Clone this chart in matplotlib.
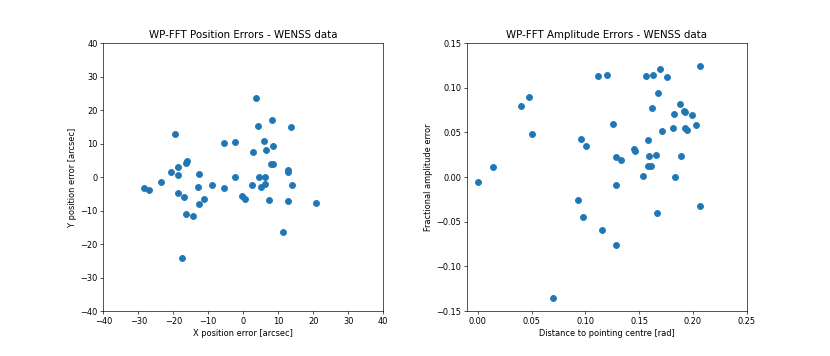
from matplotlib import pyplot as plt

# position errors [arcsec]
pos_x = [3.6, 8.3, 4.1, 13.8, -19.4, -5.6, -2.4, 5.9, 6.4, 8.5, 2.7,
         -16.3, -16.0, -18.7, -20.7, -18.7, -12.7, 7.9, 8.5, 12.7, 12.8,
         -2.2, 4.6, 6.2,
         -28.3, -26.9, -23.5, -18.6, -16.9, -12.9, -8.8, -5.6, -12.5, -11.3,
         -16.4, -14.4, -17.6, -0.2, 0.5, 2.6, 5.0, 6.2, 7.4, 11.3, 12.9,
         13.9, 20.9]
pos_y = [23.5, 17.1, 15.2, 15.0, 12.9, 10.2, 10.6, 10.8, 8.2, 9.2, 7.5,
         4.3, 4.8, 3.1, 1.4, 0.7, 0.8, 4.0, 4.0, 2.1, 1.6,
         0.1, 0.1, 0.1,
         -3.3, -4.0, -1.4, -4.8, -5.9, -3.1, -2.4, -3.4, -8.1, -6.5,
         -11.0, -11.7, -24.2, -5.7, -6.5, -2.4, -3.1, -2.1, -7.0, -16.3, -7.2,
         -2.3, -7.7]

# amplitude errors vs distance to pointing centre
dist = [0.2065, 0.169, 0.1119, 0.1202, 0.156, 0.163, 0.1764, 0.1677,
        0.0406, 0.048, 0.0505, 0.1621, 0.1876, 0.1823, 0.1913, 0.1925,
        0.1993, 0.2028, 0.1258, 0.1712, 0.1811, 0.1931, 0.1941, 0.0958,
        0.101, 0.1584, 0.1457, 0.146, 0.1286, 0.133, 0.1593, 0.1655,
        0.1885, 0.0139, 0.1584, 0.1615, 0.0002, 0.1541, 0.1832,
        0.1286, 0.093, 0.0976, 0.2065, 0.1665, 0.1153, 0.1283, 0.0703]
amp_err = [0.1246, 0.1208, 0.1134, 0.1141, 0.1126, 0.1141, 0.1123, 0.0944,
           0.0799, 0.0899, 0.0485, 0.0768, 0.0821, 0.0705, 0.0738, 0.0724,
           0.069, 0.0586, 0.059, 0.0515, 0.0545, 0.0545, 0.0522, 0.043,
           0.0343, 0.0418, 0.031, 0.0287, 0.0224, 0.0187, 0.0239, 0.0246,
           0.0235, 0.0112, 0.0123, 0.0128, -0.0052, 0.0008, -0.0003,
           -0.0085, -0.0253, -0.0451, -0.032, -0.0406, -0.0596, -0.0756, -0.1357]

fig, (ax1, ax2) = plt.subplots(1, 2, figsize=(14, 6.005), dpi=830 / 14)
plt.subplots_adjust(left=0.1245, right=0.8996, bottom=0.1264, top=0.879, wspace=0.3)

ax1.scatter(pos_x, pos_y, s=53)
ax1.set_xlim(-40, 40)
ax1.set_ylim(-40, 40)
ax1.set_title('WP-FFT Position Errors - WENSS data', fontsize=12.5)
ax1.set_xlabel('X position error [arcsec]')
ax1.set_ylabel('Y position error [arcsec]')

ax2.scatter(dist, amp_err, s=53)
ax2.set_xlim(-0.01, 0.25)
ax2.set_ylim(-0.15, 0.15)
ax2.set_title('WP-FFT Amplitude Errors - WENSS data', fontsize=12.5)
ax2.set_xlabel('Distance to pointing centre [rad]')
ax2.set_ylabel('Fractional amplitude error')

plt.savefig('out.png')
